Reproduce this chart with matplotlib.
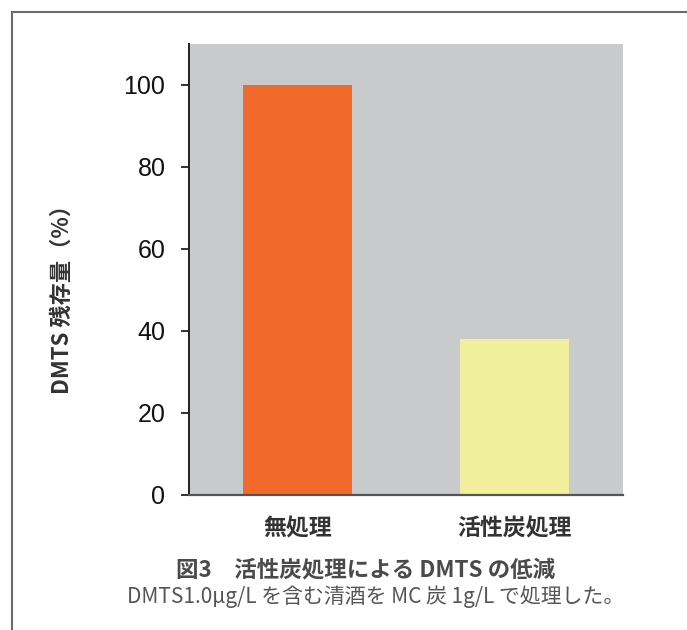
import matplotlib
matplotlib.use("Agg")
import matplotlib.pyplot as plt
from matplotlib.lines import Line2D

plt.rcParams['font.family'] = ['Noto Sans CJK JP', 'DejaVu Sans']

## data
categories = ["無処理", "活性炭処理"]
residual = [100, 38]
bar_colors = ["#f26a2b", "#f0ef9b"]
yticks = [0, 20, 40, 60, 80, 100]

ylabel = "DMTS 残存量（%）"
title = "図3　活性炭処理による DMTS の低減"
note = "DMTS1.0μg/L を含む清酒を MC 炭 1g/L で処理した。"

fig = plt.figure(figsize=(6.87, 6.30), dpi=100)
ax = fig.add_axes([0.2751, 0.2143, 0.6317, 0.7159])
ax.set_facecolor("#c8cacc")

x = list(range(len(categories)))
ax.bar(x, residual, width=0.5, color=bar_colors, zorder=2)
ax.set_xlim(-0.5, 1.5)
ax.set_ylim(0, 110)
ax.set_yticks(yticks)
ax.set_yticklabels([str(v) for v in yticks], fontsize=18, color="#111111",
                   family=["Liberation Sans", "DejaVu Sans"])
ax.set_xticks(x)
ax.set_xticklabels(categories, fontsize=16.5, fontweight="bold", color="#333333")
ax.tick_params(axis="y", length=6, width=1.3, pad=11, color="#222222")
ax.tick_params(axis="x", length=0, pad=16)

for side in ["top", "right"]:
    ax.spines[side].set_visible(False)
ax.spines["left"].set_linewidth(1.4)
ax.spines["left"].set_color("#222222")
ax.spines["bottom"].set_linewidth(1.6)
ax.spines["bottom"].set_color("#555555")

fig.text(62 / 687, 1 - 294 / 630, ylabel, rotation=90, ha="center", va="center",
         fontsize=16, fontweight="bold", color="#333333")
fig.text(366 / 687, 1 - 570 / 630, title, ha="center", va="center",
         fontsize=16.2, fontweight="bold", color="#4a4a4a")
fig.text(376 / 687, 1 - 597 / 630, note, ha="center", va="center",
         fontsize=15, color="#555555")

# outer frame: only the left and top edges are visible in the crop
fx, fy = 12 / 687, 1 - 12 / 630
fig.add_artist(Line2D([fx, fx], [0, fy], transform=fig.transFigure,
                      color="#6b6b6b", linewidth=1.5))
fig.add_artist(Line2D([fx, 1], [fy, fy], transform=fig.transFigure,
                      color="#6b6b6b", linewidth=1.5))

fig.savefig("out.png", dpi=100)
